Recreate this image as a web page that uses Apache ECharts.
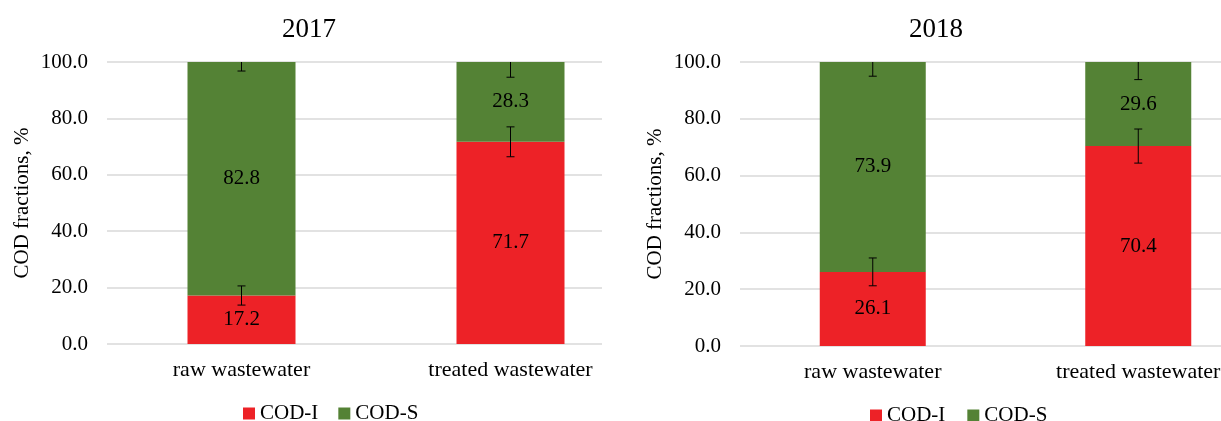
<!DOCTYPE html>
<html>
<head>
<meta charset="utf-8">
<script src="https://cdn.jsdelivr.net/npm/echarts@6/dist/echarts.min.js"></script>
<style>
  html, body { margin: 0; padding: 0; background: #fff; overflow: hidden; }
  /* the right plot runs past the window edge, as in the picture */
  #chart { width: 1290px; height: 421px; }
</style>
</head>
<body>
<div id="chart"></div>
<script>
// categories and values
var categories = ['raw wastewater', 'treated wastewater'];
var yTicks = [0, 20, 40, 60, 80, 100];

var codI2017 = [17.2, 71.7];
var codS2017 = [82.8, 28.3];
var errI2017 = [3.4, 5.3];
var errS2017 = [3.2, 5.4];

var codI2018 = [26.1, 70.4];
var codS2018 = [73.9, 29.6];
var errI2018 = [4.9, 6.0];
var errS2018 = [5.0, 6.2];

var FONT = "'Liberation Serif', 'Times New Roman', serif";
var RED = '#ED2227';
var GREEN = '#548235';
var GRID_LINE = '#d9d9d9';

// error bar drawn on the category axis at the top of each stacked piece
function errorBars(xIdx, yIdx, base, add, errs) {
    var data = base.map(function (v, i) {
        return [i, v + (add ? add[i] : 0), errs[i]];
    });
    return {
        type: 'custom',
        xAxisIndex: xIdx,
        yAxisIndex: yIdx,
        clip: true,
        silent: true,
        z: 5,
        data: data,
        renderItem: function (params, api) {
            var x = api.value(0), y = api.value(1), e = api.value(2);
            var hi = api.coord([x, y + e]);
            var lo = api.coord([x, y - e]);
            var st = { stroke: '#000', lineWidth: 1 };
            return {
                type: 'group',
                children: [
                    { type: 'line', shape: { x1: hi[0], y1: hi[1], x2: lo[0], y2: lo[1] }, style: st },
                    { type: 'line', shape: { x1: hi[0] - 4, y1: hi[1], x2: hi[0] + 4, y2: hi[1] }, style: st },
                    { type: 'line', shape: { x1: lo[0] - 4, y1: lo[1], x2: lo[0] + 4, y2: lo[1] }, style: st }
                ]
            };
        }
    };
}

function barSeries(name, xIdx, yIdx, data, color, width) {
    return {
        name: name,
        type: 'bar',
        stack: 'cod' + xIdx,
        xAxisIndex: xIdx,
        yAxisIndex: yIdx,
        barWidth: width,
        data: data,
        itemStyle: { color: color },
        label: {
            show: true,
            position: 'inside',
            color: '#000',
            fontFamily: FONT,
            fontSize: 21,
            formatter: function (p) { return p.value.toFixed(1); }
        }
    };
}

function yAxisMain(gridIdx, showSplit) {
    return {
        type: 'value',
        gridIndex: gridIdx,
        min: yTicks[0],
        max: yTicks[yTicks.length - 1],
        interval: 20,
        name: 'COD fractions, %',
        nameLocation: 'middle',
        nameGap: 74,
        nameTextStyle: { fontFamily: FONT, fontSize: 21, color: '#000' },
        axisLine: { show: false },
        axisTick: { show: false },
        axisLabel: {
            margin: 19,
            fontFamily: FONT,
            fontSize: 21,
            color: '#000',
            formatter: function (v) { return v.toFixed(1); }
        },
        splitLine: { show: showSplit, lineStyle: { color: GRID_LINE, width: 1.5 } }
    };
}

function xAxisCat(gridIdx) {
    return {
        type: 'category',
        gridIndex: gridIdx,
        data: categories,
        axisLine: { show: false },
        axisTick: { show: false },
        axisLabel: { margin: 15, fontFamily: FONT, fontSize: 22, color: '#000' }
    };
}

option = {
    animation: false,
    title: [{
        text: '2017', left: 304, top: 11, textAlign: 'center',
        textStyle: { fontFamily: FONT, fontSize: 27, fontWeight: 'normal', color: '#000' }
    }, {
        text: '2018', left: 931, top: 11, textAlign: 'center',
        textStyle: { fontFamily: FONT, fontSize: 27, fontWeight: 'normal', color: '#000' }
    }],
    legend: [{
        data: ['COD-I', 'COD-S'],
        left: 238, top: 398,
        icon: 'rect', itemWidth: 12, itemHeight: 12, itemGap: 20, itemStyle: { borderWidth: 0 },
        textStyle: { fontFamily: FONT, fontSize: 21, color: '#000' }
    }, {
        data: ['COD-I', 'COD-S'],
        left: 865, top: 400,
        icon: 'rect', itemWidth: 12, itemHeight: 12, itemGap: 22, itemStyle: { borderWidth: 0 },
        textStyle: { fontFamily: FONT, fontSize: 21, color: '#000' }
    }],
    grid: [
        { left: 107, top: 62, width: 538, height: 282 },   // 2017 bars
        { left: 107, top: 62, width: 495, height: 282 },   // 2017 gridlines
        { left: 740, top: 62, width: 531, height: 284 }    // 2018
    ],
    xAxis: [
        xAxisCat(0),
        { type: 'value', gridIndex: 1, show: false, min: 0, max: 1 },
        xAxisCat(2)
    ],
    yAxis: [
        yAxisMain(0, false),
        {
            type: 'value', gridIndex: 1, min: 0, max: 100, interval: 20,
            axisLine: { show: false }, axisTick: { show: false }, axisLabel: { show: false },
            splitLine: { show: true, lineStyle: { color: GRID_LINE, width: 1.5 } }
        },
        yAxisMain(2, true)
    ],
    series: [
        barSeries('COD-I', 0, 0, codI2017, RED, 108),
        barSeries('COD-S', 0, 0, codS2017, GREEN, 108),
        errorBars(0, 0, codI2017, null, errI2017),
        errorBars(0, 0, codI2017, codS2017, errS2017),
        barSeries('COD-I', 2, 2, codI2018, RED, 106),
        barSeries('COD-S', 2, 2, codS2018, GREEN, 106),
        errorBars(2, 2, codI2018, null, errI2018),
        errorBars(2, 2, codI2018, codS2018, errS2018)
    ]
};

var myChart = echarts.init(document.getElementById('chart'));
myChart.setOption(option);
</script>
</body>
</html>
